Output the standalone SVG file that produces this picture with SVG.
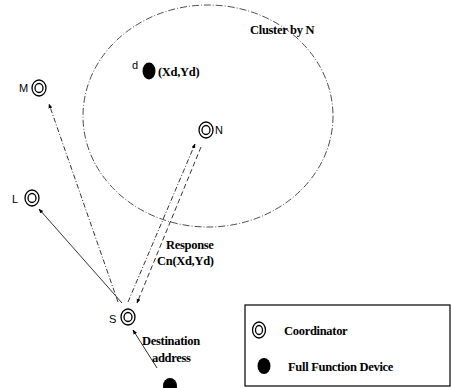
<svg xmlns="http://www.w3.org/2000/svg" width="451" height="388" viewBox="0 0 451 388">
<defs>
<style>
.lbl{font-family:"Liberation Serif",serif;font-weight:bold;font-size:12.5px;letter-spacing:-0.3px;fill:#000}
.sans{font-family:"Liberation Sans",sans-serif;font-size:11px;fill:#000}
.ring{fill:#fff;stroke:#000;stroke-width:1.3}
.ffd{fill:#000}
.c{fill:none;stroke:#000;stroke-width:0.8}
</style>
<marker id="ah" viewBox="0 0 10 10" refX="9" refY="5" markerWidth="6" markerHeight="6" orient="auto">
<path d="M0,1 L10,5 L0,9 z" fill="#000"/>
</marker>
</defs>
<rect width="451" height="388" fill="#fff"/>
<g id="cluster">
<ellipse cx="208" cy="116" rx="125" ry="111" fill="none" stroke="#000" stroke-width="0.7" stroke-dasharray="7,2,1,2"/>
<text class="lbl" x="250" y="34">Cluster by N</text>
</g>
<g id="connectors">
<line class="c" x1="118" y1="302" x2="49" y2="104" stroke-dasharray="5,2,1,2" marker-end="url(#ah)"/>
<line class="c" x1="122" y1="303" x2="39" y2="209" marker-end="url(#ah)"/>
<line class="c" x1="128" y1="302" x2="195" y2="144" stroke-dasharray="5,2,1,2" marker-end="url(#ah)"/>
<line class="c" x1="201" y1="147" x2="137" y2="303" stroke-width="1.1" stroke-dasharray="5,3" marker-end="url(#ah)"/>
<line class="c" x1="157" y1="368" x2="133" y2="330" marker-end="url(#ah)"/>
<text class="lbl" x="166" y="249">Response</text>
<text class="lbl" x="157" y="265">Cn(Xd,Yd)</text>
<text class="lbl" x="142" y="345">Destination</text>
<text class="lbl" x="152" y="362">address</text>
</g>
<g id="M">
<ellipse class="ring" cx="39" cy="88" rx="7" ry="8"/>
<ellipse class="ring" cx="39" cy="88" rx="4" ry="4.5"/>
<text class="sans" x="19" y="92">M</text>
</g>
<g id="N">
<ellipse class="ring" cx="206" cy="130" rx="7" ry="8"/>
<ellipse class="ring" cx="206" cy="130" rx="4" ry="4.5"/>
<text class="sans" x="215" y="134">N</text>
</g>
<g id="L">
<ellipse class="ring" cx="32" cy="198" rx="7" ry="8"/>
<ellipse class="ring" cx="32" cy="198" rx="4" ry="4.5"/>
<text class="sans" x="12" y="203">L</text>
</g>
<g id="S">
<ellipse class="ring" cx="128" cy="317" rx="7" ry="8"/>
<ellipse class="ring" cx="128" cy="317" rx="4" ry="4.5"/>
<text class="sans" x="109" y="323">S</text>
</g>
<g id="d">
<ellipse class="ffd" cx="149" cy="71" rx="6.5" ry="8.5"/>
<text class="sans" x="132" y="69" font-size="9">d</text>
<text class="lbl" x="158" y="76">(Xd,Yd)</text>
</g>
<g id="src">
<ellipse class="ffd" cx="170" cy="386" rx="7" ry="8"/>
</g>
<g id="legend">
<rect x="245" y="305" width="205" height="81" fill="#fff" stroke="#000" stroke-width="1.2"/>
<ellipse class="ring" cx="259" cy="330" rx="6.5" ry="8"/>
<ellipse class="ring" cx="259" cy="330" rx="3.5" ry="4.5"/>
<text class="lbl" x="284" y="335">Coordinator</text>
<ellipse class="ffd" cx="264" cy="366" rx="6.5" ry="8"/>
<text class="lbl" x="288" y="371">Full Function Device</text>
</g>
</svg>
